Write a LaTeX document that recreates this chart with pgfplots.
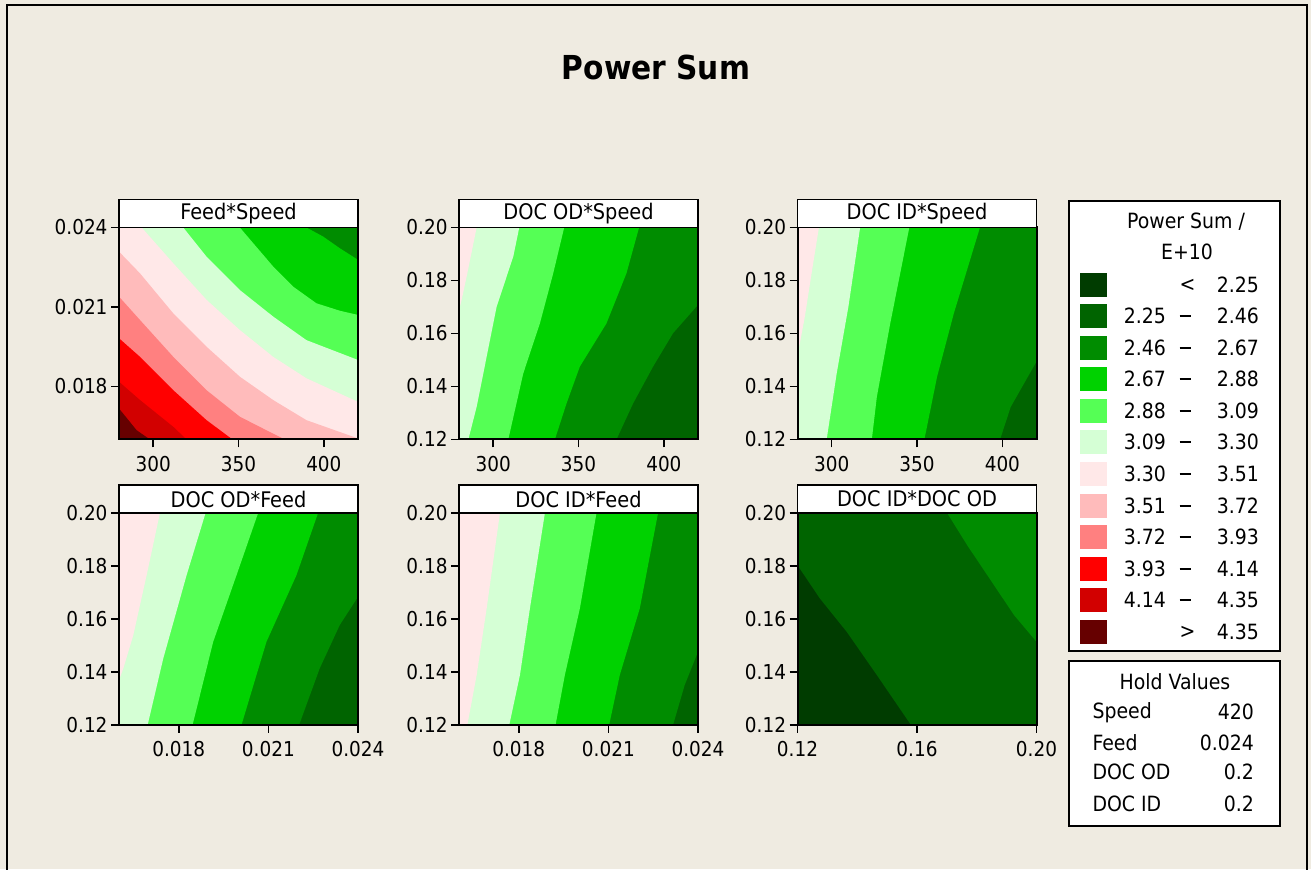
\documentclass[border=0pt]{standalone}
\usepackage{pgfplots}
\pgfplotsset{compat=1.18}
\usepackage{fontspec}
\setmainfont{DejaVu Sans Condensed}
\definecolor{bgc}{HTML}{EFEBE1}
\definecolor{ca}{HTML}{003C00}
\definecolor{cb}{HTML}{006400}
\definecolor{cc}{HTML}{008C00}
\definecolor{cd}{HTML}{00D200}
\definecolor{ce}{HTML}{55FF55}
\definecolor{cf}{HTML}{D5FFD5}
\definecolor{cg}{HTML}{FFE8E8}
\definecolor{ch}{HTML}{FFBBBB}
\definecolor{ci}{HTML}{FF8080}
\definecolor{cj}{HTML}{FF0000}
\definecolor{ck}{HTML}{D20000}
\definecolor{cl}{HTML}{660000}
\pgfplotsset{
  panel/.style={scale only axis, width=239bp, height=212bp, anchor=south west,
    axis on top, tick align=outside, tick pos=left, major tick length=8bp,
    major tick style={black, line width=1.5bp},
    axis line style={line width=2bp},
    scaled ticks=false,
    tick label style={font=\fontsize{20.5bp}{24bp}\selectfont, black},
    xticklabel style={yshift=-5bp},
    enlargelimits=false, clip=true,
    /pgf/number format/assume math mode=true},
  band/.style={fill=#1, draw=none, forget plot}
}
\newcommand{\header}[2]{%
  \draw[fill=white, line width=1.5bp] (#1.north west) rectangle ([yshift=28bp]#1.north east);
  \node[font=\fontsize{21.5bp}{24bp}\selectfont, anchor=center] at ([yshift=14bp]#1.north) {#2};}
\begin{document}
\begin{tikzpicture}[x=1bp,y=1bp]
\useasboundingbox (0,0) rectangle (1311,869);
\fill[bgc] (0,0) rectangle (1311,869);
\draw[line width=2.5bp] (7,-10) -- (7,864) -- (1307,864) -- (1307,-10);
\node[font=\fontsize{33bp}{36bp}\selectfont\bfseries] at (656,802) {Power Sum};

% ---------- Panel 1: Feed*Speed ----------
\begin{axis}[panel, name=p1, at={(119bp,429.5bp)},
  xmin=280, xmax=420, ymin=0.016, ymax=0.024,
  xtick={300,350,400}, xticklabels={300,350,400},
  ytick={0.018,0.021,0.024}, yticklabels={0.018,0.021,0.024}]
\addplot[band=cc] coordinates {(280,0.016) (420,0.016) (420,0.024) (280,0.024)} -- cycle;
\addplot[band=cd] coordinates {(389.78,0.024) (399.53,0.02366) (409.28,0.02322) (420,0.02278) (420,0.016) (280,0.016) (280,0.024)} -- cycle;
\addplot[band=ce] coordinates {(350.78,0.024) (358.58,0.02341) (370.28,0.02253) (381.98,0.02177) (395.63,0.02114) (409.28,0.02086) (420,0.02070) (420,0.016) (280,0.016) (280,0.024)} -- cycle;
\addplot[band=cf] coordinates {(317.63,0.024) (331.28,0.02290) (350.78,0.02164) (370.28,0.02064) (389.78,0.01975) (420,0.01900) (420,0.016) (280,0.016) (280,0.024)} -- cycle;
\addplot[band=cg] coordinates {(293.26,0.024) (311.78,0.02265) (331.28,0.02127) (350.78,0.02013) (370.28,0.01912) (389.78,0.01831) (420,0.01742) (420,0.016) (280,0.016) (280,0.024)} -- cycle;
\addplot[band=ch] coordinates {(280,0.02309) (292.28,0.02227) (311.78,0.02076) (331.28,0.01950) (350.78,0.01837) (370.28,0.01749) (389.78,0.01673) (420,0.01604) (420,0.016) (280,0.016)} -- cycle;
\addplot[band=ci] coordinates {(280,0.02139) (292.28,0.02051) (311.78,0.01912) (331.28,0.01786) (350.78,0.01686) (370.28,0.01622) (377.10,0.016) (280,0.016)} -- cycle;
\addplot[band=cj] coordinates {(280,0.01982) (292.28,0.01912) (311.78,0.01786) (331.28,0.01673) (346.49,0.016) (280,0.016)} -- cycle;
\addplot[band=ck] coordinates {(280,0.01818) (292.28,0.01749) (311.78,0.01648) (319.58,0.016) (280,0.016)} -- cycle;
\addplot[band=cl] coordinates {(280,0.01717) (290.33,0.01635) (298.13,0.016) (280,0.016)} -- cycle;
\end{axis}
\header{p1}{Feed*Speed}

% ---------- Panel 2: DOC OD*Speed ----------
\begin{axis}[panel, name=p2, at={(459bp,429.5bp)},
  xmin=280, xmax=420, ymin=0.12, ymax=0.20,
  xtick={300,350,400}, xticklabels={300,350,400},
  ytick={0.12,0.14,0.16,0.18,0.20}, yticklabels={0.12,0.14,0.16,0.18,0.20}]
\addplot[band=cb] coordinates {(280,0.12) (420,0.12) (420,0.20) (280,0.20)} -- cycle;
\addplot[band=cc] coordinates {(420,0.1708) (405.38,0.1601) (393.68,0.1475) (381.98,0.1336) (372.23,0.12) (280,0.12) (280,0.20) (420,0.20)} -- cycle;
\addplot[band=cd] coordinates {(385.49,0.20) (378.08,0.1827) (366.38,0.1638) (350.78,0.1475) (342.98,0.1336) (336.16,0.12) (280,0.12) (280,0.20)} -- cycle;
\addplot[band=ce] coordinates {(341.62,0.20) (335.18,0.1827) (327.38,0.1638) (317.63,0.1449) (308.86,0.12) (280,0.12) (280,0.20)} -- cycle;
\addplot[band=cf] coordinates {(315.29,0.20) (311.78,0.1890) (302.03,0.1701) (296.18,0.1512) (290.33,0.1323) (285.46,0.12) (280,0.12) (280,0.20)} -- cycle;
\addplot[band=cg] coordinates {(290.33,0.20) (284.87,0.1827) (281.56,0.1727) (280,0.1689) (280,0.20)} -- cycle;
\end{axis}
\header{p2}{DOC OD*Speed}

% ---------- Panel 3: DOC ID*Speed ----------
\begin{axis}[panel, name=p3, at={(797.5bp,429.5bp)},
  xmin=280, xmax=420, ymin=0.12, ymax=0.20,
  xtick={300,350,400}, xticklabels={300,350,400},
  ytick={0.12,0.14,0.16,0.18,0.20}, yticklabels={0.12,0.14,0.16,0.18,0.20}]
\addplot[band=cb] coordinates {(280,0.12) (420,0.12) (420,0.20) (280,0.20)} -- cycle;
\addplot[band=cc] coordinates {(420,0.1494) (412.75,0.1412) (404.90,0.1323) (398.63,0.12) (280,0.12) (280,0.20) (420,0.20)} -- cycle;
\addplot[band=cd] coordinates {(386.86,0.20) (371.57,0.1676) (361.76,0.1437) (354.31,0.12) (280,0.12) (280,0.20)} -- cycle;
\addplot[band=ce] coordinates {(345.49,0.20) (334.31,0.1638) (326.47,0.1361) (323.53,0.12) (280,0.12) (280,0.20)} -- cycle;
\addplot[band=cf] coordinates {(316.67,0.20) (309.80,0.1701) (302.94,0.1449) (297.06,0.12) (280,0.12) (280,0.20)} -- cycle;
\addplot[band=cg] coordinates {(292.55,0.20) (288.24,0.1827) (284.31,0.1664) (281.37,0.1563) (280,0.1525) (280,0.20)} -- cycle;
\end{axis}
\header{p3}{DOC ID*Speed}

% ---------- Panel 4: DOC OD*Feed ----------
\begin{axis}[panel, name=p4, at={(119bp,144bp)},
  xmin=0.016, xmax=0.024, ymin=0.12, ymax=0.20,
  xtick={0.018,0.021,0.024}, xticklabels={0.018,0.021,0.024},
  ytick={0.12,0.14,0.16,0.18,0.20}, yticklabels={0.12,0.14,0.16,0.18,0.20}]
\addplot[band=cb] coordinates {(0.016,0.12) (0.024,0.12) (0.024,0.20) (0.016,0.20)} -- cycle;
\addplot[band=cc] coordinates {(0.024,0.16835) (0.023387,0.15768) (0.022718,0.14135) (0.022028,0.12) (0.016,0.12) (0.016,0.20) (0.024,0.20)} -- cycle;
\addplot[band=cd] coordinates {(0.022663,0.20) (0.021939,0.17651) (0.020936,0.15140) (0.020100,0.12) (0.016,0.12) (0.016,0.20)} -- cycle;
\addplot[band=ce] coordinates {(0.020657,0.20) (0.019933,0.17651) (0.019153,0.15140) (0.018462,0.12) (0.016,0.12) (0.016,0.20)} -- cycle;
\addplot[band=cf] coordinates {(0.018897,0.20) (0.018262,0.17651) (0.017482,0.14512) (0.016958,0.12) (0.016,0.12) (0.016,0.20)} -- cycle;
\addplot[band=cg] coordinates {(0.017370,0.20) (0.016925,0.17651) (0.016479,0.15391) (0.016145,0.14135) (0.016,0.13695) (0.016,0.20)} -- cycle;
\end{axis}
\header{p4}{DOC OD*Feed}

% ---------- Panel 5: DOC ID*Feed ----------
\begin{axis}[panel, name=p5, at={(459bp,144bp)},
  xmin=0.016, xmax=0.024, ymin=0.12, ymax=0.20,
  xtick={0.018,0.021,0.024}, xticklabels={0.018,0.021,0.024},
  ytick={0.12,0.14,0.16,0.18,0.20}, yticklabels={0.12,0.14,0.16,0.18,0.20}]
\addplot[band=cb] coordinates {(0.016,0.12) (0.024,0.12) (0.024,0.20) (0.016,0.20)} -- cycle;
\addplot[band=cc] coordinates {(0.024,0.14763) (0.023554,0.13507) (0.023164,0.12) (0.016,0.12) (0.016,0.20) (0.024,0.20)} -- cycle;
\addplot[band=cd] coordinates {(0.022663,0.20) (0.022050,0.16396) (0.021382,0.13884) (0.021025,0.12) (0.016,0.12) (0.016,0.20)} -- cycle;
\addplot[band=ce] coordinates {(0.020602,0.20) (0.020045,0.16396) (0.019543,0.13884) (0.019231,0.12) (0.016,0.12) (0.016,0.20)} -- cycle;
\addplot[band=cf] coordinates {(0.018875,0.20) (0.018373,0.16396) (0.018039,0.13884) (0.017682,0.12) (0.016,0.12) (0.016,0.20)} -- cycle;
\addplot[band=cg] coordinates {(0.017370,0.20) (0.016925,0.16396) (0.016591,0.13884) (0.016279,0.12) (0.016,0.12) (0.016,0.20)} -- cycle;
\end{axis}
\header{p5}{DOC ID*Feed}

% ---------- Panel 6: DOC ID*DOC OD ----------
\begin{axis}[panel, name=p6, at={(797.5bp,144bp)},
  xmin=0.12, xmax=0.20, ymin=0.12, ymax=0.20,
  xtick={0.12,0.16,0.20}, xticklabels={0.12,0.16,0.20},
  ytick={0.12,0.14,0.16,0.18,0.20}, yticklabels={0.12,0.14,0.16,0.18,0.20}]
\addplot[band=ca] coordinates {(0.12,0.12) (0.20,0.12) (0.20,0.20) (0.12,0.20)} -- cycle;
\addplot[band=cb] coordinates {(0.12,0.18028) (0.127507,0.16772) (0.136471,0.15516) (0.146555,0.13884) (0.157983,0.12) (0.20,0.12) (0.20,0.20) (0.12,0.20)} -- cycle;
\addplot[band=cc] coordinates {(0.170084,0.20) (0.176807,0.18782) (0.185770,0.17275) (0.192493,0.16144) (0.20,0.15140) (0.20,0.20)} -- cycle;
\end{axis}
\header{p6}{DOC ID*DOC OD}

% ---------- Legend ----------
\draw[fill=white, line width=2bp] (1069.3,668.3) rectangle (1280,218);
\begin{scope}[font=\fontsize{21bp}{24bp}\selectfont]
\node at (1186,647.3) {Power Sum /};
\node at (1187,617.3) {E+10};
\foreach \k/\c/\lo/\hi in {0/ca//2.25, 1/cb/2.25/2.46, 2/cc/2.46/2.67, 3/cd/2.67/2.88,
  4/ce/2.88/3.09, 5/cf/3.09/3.30, 6/cg/3.30/3.51, 7/ch/3.51/3.72, 8/ci/3.72/3.93,
  9/cj/3.93/4.14, 10/ck/4.14/4.35, 11/cl//4.35}{
  \pgfmathsetmacro{\yy}{round(584.3-31.55*\k)}
  \fill[\c] (1080,\yy-12) rectangle (1107,\yy+12);
  \node[anchor=east, inner sep=0pt] at (1166,\yy) {\lo};
  \node[anchor=east, inner sep=0pt] at (1259,\yy) {\hi};
}
\foreach \k in {1,...,10}{
  \pgfmathsetmacro{\yy}{round(584.3-31.55*\k)}
  \draw[line width=2bp] (1179.5,\yy) -- (1190.5,\yy);
}
\node[inner sep=0pt] at (1187.5,584) {<};
\node[inner sep=0pt] at (1187.5,237) {>};

% ---------- Hold values ----------
\draw[fill=white, line width=2bp] (1069.3,208.3) rectangle (1280,43.3);
\node at (1175,187.3) {Hold Values};
\node[anchor=west, inner sep=0pt] at (1092.3,156.7) {Speed};
\node[anchor=west, inner sep=0pt] at (1092.3,126) {Feed};
\node[anchor=west, inner sep=0pt] at (1092.3,96.7) {DOC OD};
\node[anchor=west, inner sep=0pt] at (1092.3,65.3) {DOC ID};
\node[anchor=east, inner sep=0pt] at (1254,156.7) {420};
\node[anchor=east, inner sep=0pt] at (1254,126) {0.024};
\node[anchor=east, inner sep=0pt] at (1254,96.7) {0.2};
\node[anchor=east, inner sep=0pt] at (1254,65.3) {0.2};
\end{scope}
\end{tikzpicture}
\end{document}
